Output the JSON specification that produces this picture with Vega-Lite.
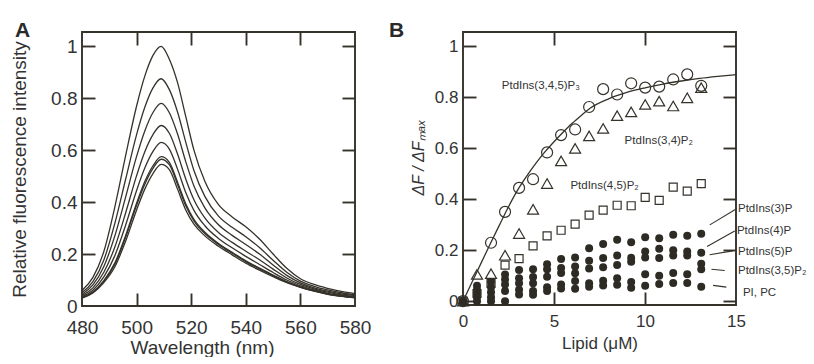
{
"$schema": "https://vega.github.io/schema/vega-lite/v6.json",
"background": "white",
"padding": {"left": 10, "top": 20, "right": 0, "bottom": 0},
"spacing": 108,
"bounds": "flush",
"config": {
  "view": {"stroke": null},
  "axis": {"grid": false, "labelColor": "#333333", "titleColor": "#333333", "labelFont": "Liberation Sans", "titleFont": "Liberation Sans",
           "titleFontWeight": "normal", "labelFlush": false, "labelOverlap": false},
  "title": {"font": "Liberation Sans", "color": "#2a2a2a"}
},
"datasets": {
  "spectra": [
{"c":1,"wl":480,"v":0.06},{"c":1,"wl":484,"v":0.11},{"c":1,"wl":488,"v":0.21},{"c":1,"wl":492,"v":0.38},{"c":1,"wl":496,"v":0.58},{"c":1,"wl":500,"v":0.77},{"c":1,"wl":503,"v":0.885},{"c":1,"wl":506,"v":0.965},{"c":1,"wl":509,"v":1.0},{"c":1,"wl":512,"v":0.95},{"c":1,"wl":515,"v":0.86},{"c":1,"wl":518,"v":0.73},{"c":1,"wl":521,"v":0.6},{"c":1,"wl":525,"v":0.48},{"c":1,"wl":530,"v":0.39},{"c":1,"wl":535,"v":0.343},{"c":1,"wl":540,"v":0.305},{"c":1,"wl":545,"v":0.258},{"c":1,"wl":550,"v":0.2},{"c":1,"wl":555,"v":0.145},{"c":1,"wl":560,"v":0.105},{"c":1,"wl":565,"v":0.083},{"c":1,"wl":570,"v":0.068},{"c":1,"wl":575,"v":0.056},{"c":1,"wl":580,"v":0.048},
{"c":2,"wl":480,"v":0.052},{"c":2,"wl":484,"v":0.094},{"c":2,"wl":488,"v":0.177},{"c":2,"wl":492,"v":0.317},{"c":2,"wl":496,"v":0.489},{"c":2,"wl":500,"v":0.66},{"c":2,"wl":503,"v":0.765},{"c":2,"wl":506,"v":0.84},{"c":2,"wl":509,"v":0.875},{"c":2,"wl":512,"v":0.833},{"c":2,"wl":515,"v":0.747},{"c":2,"wl":518,"v":0.631},{"c":2,"wl":521,"v":0.522},{"c":2,"wl":525,"v":0.422},{"c":2,"wl":530,"v":0.346},{"c":2,"wl":535,"v":0.303},{"c":2,"wl":540,"v":0.267},{"c":2,"wl":545,"v":0.225},{"c":2,"wl":550,"v":0.176},{"c":2,"wl":555,"v":0.13},{"c":2,"wl":560,"v":0.096},{"c":2,"wl":565,"v":0.076},{"c":2,"wl":570,"v":0.062},{"c":2,"wl":575,"v":0.051},{"c":2,"wl":580,"v":0.043},
{"c":3,"wl":480,"v":0.045},{"c":3,"wl":484,"v":0.081},{"c":3,"wl":488,"v":0.152},{"c":3,"wl":492,"v":0.269},{"c":3,"wl":496,"v":0.42},{"c":3,"wl":500,"v":0.576},{"c":3,"wl":503,"v":0.674},{"c":3,"wl":506,"v":0.745},{"c":3,"wl":509,"v":0.78},{"c":3,"wl":512,"v":0.744},{"c":3,"wl":515,"v":0.662},{"c":3,"wl":518,"v":0.556},{"c":3,"wl":521,"v":0.462},{"c":3,"wl":525,"v":0.378},{"c":3,"wl":530,"v":0.313},{"c":3,"wl":535,"v":0.272},{"c":3,"wl":540,"v":0.237},{"c":3,"wl":545,"v":0.2},{"c":3,"wl":550,"v":0.158},{"c":3,"wl":555,"v":0.118},{"c":3,"wl":560,"v":0.089},{"c":3,"wl":565,"v":0.07},{"c":3,"wl":570,"v":0.057},{"c":3,"wl":575,"v":0.047},{"c":3,"wl":580,"v":0.04},
{"c":4,"wl":480,"v":0.04},{"c":4,"wl":484,"v":0.07},{"c":4,"wl":488,"v":0.13},{"c":4,"wl":492,"v":0.226},{"c":4,"wl":496,"v":0.359},{"c":4,"wl":500,"v":0.502},{"c":4,"wl":503,"v":0.594},{"c":4,"wl":506,"v":0.66},{"c":4,"wl":509,"v":0.695},{"c":4,"wl":512,"v":0.665},{"c":4,"wl":515,"v":0.585},{"c":4,"wl":518,"v":0.489},{"c":4,"wl":521,"v":0.409},{"c":4,"wl":525,"v":0.339},{"c":4,"wl":530,"v":0.283},{"c":4,"wl":535,"v":0.245},{"c":4,"wl":540,"v":0.211},{"c":4,"wl":545,"v":0.178},{"c":4,"wl":550,"v":0.142},{"c":4,"wl":555,"v":0.108},{"c":4,"wl":560,"v":0.083},{"c":4,"wl":565,"v":0.066},{"c":4,"wl":570,"v":0.053},{"c":4,"wl":575,"v":0.043},{"c":4,"wl":580,"v":0.037},
{"c":5,"wl":480,"v":0.036},{"c":5,"wl":484,"v":0.061},{"c":5,"wl":488,"v":0.112},{"c":5,"wl":492,"v":0.193},{"c":5,"wl":496,"v":0.312},{"c":5,"wl":500,"v":0.445},{"c":5,"wl":503,"v":0.531},{"c":5,"wl":506,"v":0.595},{"c":5,"wl":509,"v":0.63},{"c":5,"wl":512,"v":0.604},{"c":5,"wl":515,"v":0.527},{"c":5,"wl":518,"v":0.437},{"c":5,"wl":521,"v":0.368},{"c":5,"wl":525,"v":0.309},{"c":5,"wl":530,"v":0.26},{"c":5,"wl":535,"v":0.224},{"c":5,"wl":540,"v":0.191},{"c":5,"wl":545,"v":0.16},{"c":5,"wl":550,"v":0.129},{"c":5,"wl":555,"v":0.1},{"c":5,"wl":560,"v":0.078},{"c":5,"wl":565,"v":0.062},{"c":5,"wl":570,"v":0.049},{"c":5,"wl":575,"v":0.041},{"c":5,"wl":580,"v":0.034},
{"c":6,"wl":480,"v":0.032},{"c":6,"wl":484,"v":0.054},{"c":6,"wl":488,"v":0.098},{"c":6,"wl":492,"v":0.165},{"c":6,"wl":496,"v":0.272},{"c":6,"wl":500,"v":0.396},{"c":6,"wl":503,"v":0.479},{"c":6,"wl":506,"v":0.54},{"c":6,"wl":509,"v":0.575},{"c":6,"wl":512,"v":0.553},{"c":6,"wl":515,"v":0.477},{"c":6,"wl":518,"v":0.394},{"c":6,"wl":521,"v":0.334},{"c":6,"wl":525,"v":0.284},{"c":6,"wl":530,"v":0.241},{"c":6,"wl":535,"v":0.207},{"c":6,"wl":540,"v":0.174},{"c":6,"wl":545,"v":0.146},{"c":6,"wl":550,"v":0.119},{"c":6,"wl":555,"v":0.094},{"c":6,"wl":560,"v":0.074},{"c":6,"wl":565,"v":0.059},{"c":6,"wl":570,"v":0.047},{"c":6,"wl":575,"v":0.038},{"c":6,"wl":580,"v":0.032},
{"c":7,"wl":480,"v":0.031},{"c":7,"wl":484,"v":0.053},{"c":7,"wl":488,"v":0.095},{"c":7,"wl":492,"v":0.16},{"c":7,"wl":496,"v":0.265},{"c":7,"wl":500,"v":0.388},{"c":7,"wl":503,"v":0.469},{"c":7,"wl":506,"v":0.53},{"c":7,"wl":509,"v":0.565},{"c":7,"wl":512,"v":0.544},{"c":7,"wl":515,"v":0.468},{"c":7,"wl":518,"v":0.386},{"c":7,"wl":521,"v":0.328},{"c":7,"wl":525,"v":0.279},{"c":7,"wl":530,"v":0.237},{"c":7,"wl":535,"v":0.203},{"c":7,"wl":540,"v":0.171},{"c":7,"wl":545,"v":0.143},{"c":7,"wl":550,"v":0.117},{"c":7,"wl":555,"v":0.092},{"c":7,"wl":560,"v":0.073},{"c":7,"wl":565,"v":0.058},{"c":7,"wl":570,"v":0.046},{"c":7,"wl":575,"v":0.038},{"c":7,"wl":580,"v":0.032},
{"c":8,"wl":480,"v":0.03},{"c":8,"wl":484,"v":0.05},{"c":8,"wl":488,"v":0.09},{"c":8,"wl":492,"v":0.15},{"c":8,"wl":496,"v":0.25},{"c":8,"wl":500,"v":0.37},{"c":8,"wl":503,"v":0.45},{"c":8,"wl":506,"v":0.51},{"c":8,"wl":509,"v":0.545},{"c":8,"wl":512,"v":0.525},{"c":8,"wl":515,"v":0.45},{"c":8,"wl":518,"v":0.37},{"c":8,"wl":521,"v":0.315},{"c":8,"wl":525,"v":0.27},{"c":8,"wl":530,"v":0.23},{"c":8,"wl":535,"v":0.197},{"c":8,"wl":540,"v":0.165},{"c":8,"wl":545,"v":0.138},{"c":8,"wl":550,"v":0.113},{"c":8,"wl":555,"v":0.09},{"c":8,"wl":560,"v":0.072},{"c":8,"wl":565,"v":0.057},{"c":8,"wl":570,"v":0.045},{"c":8,"wl":575,"v":0.037},{"c":8,"wl":580,"v":0.031}
  ],
  "fit": [
{"x":0,"y":0},{"x":0.5,"y":0.075},{"x":1,"y":0.15},{"x":1.5,"y":0.225},{"x":2,"y":0.298},{"x":2.5,"y":0.37},{"x":3,"y":0.435},{"x":3.5,"y":0.49},{"x":4,"y":0.54},{"x":4.5,"y":0.585},{"x":5,"y":0.625},{"x":5.5,"y":0.662},{"x":6,"y":0.697},{"x":6.5,"y":0.728},{"x":7,"y":0.757},{"x":8,"y":0.793},{"x":9,"y":0.818},{"x":10,"y":0.836},{"x":11,"y":0.851},{"x":12,"y":0.863},{"x":13,"y":0.873},{"x":14,"y":0.881},{"x":15,"y":0.888}
  ],
  "circ": [
{"x":0,"y":0},{"x":1.54,"y":0.229},{"x":2.31,"y":0.35},{"x":3.08,"y":0.444},{"x":3.85,"y":0.478},{"x":4.62,"y":0.583},{"x":5.39,"y":0.651},{"x":6.16,"y":0.673},{"x":6.93,"y":0.761},{"x":7.7,"y":0.831},{"x":8.47,"y":0.81},{"x":9.24,"y":0.854},{"x":10.01,"y":0.837},{"x":10.78,"y":0.841},{"x":11.55,"y":0.869},{"x":12.32,"y":0.889},{"x":13.09,"y":0.844}
  ],
  "tri": [
{"x":0,"y":0},{"x":0.77,"y":0.105},{"x":1.54,"y":0.108},{"x":2.31,"y":0.18},{"x":3.08,"y":0.265},{"x":3.85,"y":0.36},{"x":4.62,"y":0.461},{"x":5.39,"y":0.55},{"x":6.16,"y":0.599},{"x":6.93,"y":0.648},{"x":7.7,"y":0.677},{"x":8.47,"y":0.727},{"x":9.24,"y":0.742},{"x":10.01,"y":0.771},{"x":10.78,"y":0.784},{"x":11.55,"y":0.765},{"x":12.32,"y":0.797},{"x":13.09,"y":0.837}
  ],
  "sq": [
{"x":0,"y":0},{"x":0.77,"y":0.03},{"x":1.54,"y":0.07},{"x":2.31,"y":0.141},{"x":3.08,"y":0.167},{"x":3.85,"y":0.217},{"x":4.62,"y":0.256},{"x":5.39,"y":0.278},{"x":6.16,"y":0.302},{"x":6.93,"y":0.337},{"x":7.7,"y":0.357},{"x":8.47,"y":0.376},{"x":9.24,"y":0.374},{"x":10.01,"y":0.407},{"x":10.78,"y":0.395},{"x":11.55,"y":0.447},{"x":12.32,"y":0.431},{"x":13.09,"y":0.461}
  ],
  "dots": [
{"lipid":"PtdIns(3)P","x":0,"y":0},{"lipid":"PtdIns(4)P","x":0,"y":0},{"lipid":"PtdIns(5)P","x":0,"y":0},{"lipid":"PtdIns(3,5)P2","x":0,"y":0},{"lipid":"PI, PC","x":0,"y":0},
{"lipid":"PtdIns(3)P","x":0.77,"y":0.06},{"lipid":"PtdIns(4)P","x":0.77,"y":0.045},{"lipid":"PtdIns(5)P","x":0.77,"y":0.03},{"lipid":"PtdIns(3,5)P2","x":0.77,"y":0.015},{"lipid":"PI, PC","x":0.77,"y":0.0},
{"lipid":"PtdIns(3)P","x":1.54,"y":0.075},{"lipid":"PtdIns(4)P","x":1.54,"y":0.055},{"lipid":"PtdIns(5)P","x":1.54,"y":0.035},{"lipid":"PtdIns(3,5)P2","x":1.54,"y":0.015},{"lipid":"PI, PC","x":1.54,"y":0.0},
{"lipid":"PtdIns(3)P","x":2.31,"y":0.105},{"lipid":"PtdIns(4)P","x":2.31,"y":0.085},{"lipid":"PtdIns(5)P","x":2.31,"y":0.065},{"lipid":"PtdIns(3,5)P2","x":2.31,"y":0.04},{"lipid":"PI, PC","x":2.31,"y":0.0},
{"lipid":"PtdIns(3)P","x":3.08,"y":0.122},{"lipid":"PtdIns(4)P","x":3.08,"y":0.09},{"lipid":"PtdIns(5)P","x":3.08,"y":0.07},{"lipid":"PtdIns(3,5)P2","x":3.08,"y":0.045},{"lipid":"PI, PC","x":3.08,"y":0.026},
{"lipid":"PtdIns(3)P","x":3.85,"y":0.125},{"lipid":"PtdIns(4)P","x":3.85,"y":0.095},{"lipid":"PtdIns(5)P","x":3.85,"y":0.07},{"lipid":"PtdIns(3,5)P2","x":3.85,"y":0.04},{"lipid":"PI, PC","x":3.85,"y":0.025},
{"lipid":"PtdIns(3)P","x":4.62,"y":0.145},{"lipid":"PtdIns(4)P","x":4.62,"y":0.125},{"lipid":"PtdIns(5)P","x":4.62,"y":0.096},{"lipid":"PtdIns(3,5)P2","x":4.62,"y":0.055},{"lipid":"PI, PC","x":4.62,"y":0.04},
{"lipid":"PtdIns(3)P","x":5.39,"y":0.165},{"lipid":"PtdIns(4)P","x":5.39,"y":0.13},{"lipid":"PtdIns(5)P","x":5.39,"y":0.11},{"lipid":"PtdIns(3,5)P2","x":5.39,"y":0.065},{"lipid":"PI, PC","x":5.39,"y":0.05},
{"lipid":"PtdIns(3)P","x":6.16,"y":0.171},{"lipid":"PtdIns(4)P","x":6.16,"y":0.136},{"lipid":"PtdIns(5)P","x":6.16,"y":0.109},{"lipid":"PtdIns(3,5)P2","x":6.16,"y":0.079},{"lipid":"PI, PC","x":6.16,"y":0.049},
{"lipid":"PtdIns(3)P","x":6.93,"y":0.207},{"lipid":"PtdIns(4)P","x":6.93,"y":0.158},{"lipid":"PtdIns(5)P","x":6.93,"y":0.128},{"lipid":"PtdIns(3,5)P2","x":6.93,"y":0.07},{"lipid":"PI, PC","x":6.93,"y":0.057},
{"lipid":"PtdIns(3)P","x":7.7,"y":0.224},{"lipid":"PtdIns(4)P","x":7.7,"y":0.169},{"lipid":"PtdIns(5)P","x":7.7,"y":0.133},{"lipid":"PtdIns(3,5)P2","x":7.7,"y":0.08},{"lipid":"PI, PC","x":7.7,"y":0.061},
{"lipid":"PtdIns(3)P","x":8.47,"y":0.241},{"lipid":"PtdIns(4)P","x":8.47,"y":0.179},{"lipid":"PtdIns(5)P","x":8.47,"y":0.142},{"lipid":"PtdIns(3,5)P2","x":8.47,"y":0.09},{"lipid":"PI, PC","x":8.47,"y":0.064},
{"lipid":"PtdIns(3)P","x":9.24,"y":0.231},{"lipid":"PtdIns(4)P","x":9.24,"y":0.17},{"lipid":"PtdIns(5)P","x":9.24,"y":0.155},{"lipid":"PtdIns(3,5)P2","x":9.24,"y":0.075},{"lipid":"PI, PC","x":9.24,"y":0.053},
{"lipid":"PtdIns(3)P","x":10.01,"y":0.251},{"lipid":"PtdIns(4)P","x":10.01,"y":0.195},{"lipid":"PtdIns(5)P","x":10.01,"y":0.171},{"lipid":"PtdIns(3,5)P2","x":10.01,"y":0.106},{"lipid":"PI, PC","x":10.01,"y":0.06},
{"lipid":"PtdIns(3)P","x":10.78,"y":0.247},{"lipid":"PtdIns(4)P","x":10.78,"y":0.205},{"lipid":"PtdIns(5)P","x":10.78,"y":0.169},{"lipid":"PtdIns(3,5)P2","x":10.78,"y":0.1},{"lipid":"PI, PC","x":10.78,"y":0.067},
{"lipid":"PtdIns(3)P","x":11.55,"y":0.26},{"lipid":"PtdIns(4)P","x":11.55,"y":0.2},{"lipid":"PtdIns(5)P","x":11.55,"y":0.179},{"lipid":"PtdIns(3,5)P2","x":11.55,"y":0.11},{"lipid":"PI, PC","x":11.55,"y":0.071},
{"lipid":"PtdIns(3)P","x":12.32,"y":0.256},{"lipid":"PtdIns(4)P","x":12.32,"y":0.195},{"lipid":"PtdIns(5)P","x":12.32,"y":0.179},{"lipid":"PtdIns(3,5)P2","x":12.32,"y":0.106},{"lipid":"PI, PC","x":12.32,"y":0.071},
{"lipid":"PtdIns(3)P","x":13.09,"y":0.264},{"lipid":"PtdIns(4)P","x":13.09,"y":0.19},{"lipid":"PtdIns(5)P","x":13.09,"y":0.147},{"lipid":"PtdIns(3,5)P2","x":13.09,"y":0.125},{"lipid":"PI, PC","x":13.09,"y":0.057}
  ],
  "labels": [
{"x":2.13,"y":0.842,"t":"PtdIns(3,4,5)P₃"},{"x":8.88,"y":0.626,"t":"PtdIns(3,4)P₂"},{"x":5.9,"y":0.45,"t":"PtdIns(4,5)P₂"},
{"x":15.11,"y":0.362,"t":"PtdIns(3)P"},{"x":15.05,"y":0.276,"t":"PtdIns(4)P"},{"x":15.11,"y":0.191,"t":"PtdIns(5)P"},{"x":15.11,"y":0.119,"t":"PtdIns(3,5)P₂"},{"x":15.38,"y":0.033,"t":"PI, PC"}
  ],
  "leaders": [
{"x":13.56,"y":0.299,"x2":15.03,"y2":0.362},{"x":13.41,"y":0.214,"x2":14.93,"y2":0.275},{"x":13.55,"y":0.182,"x2":14.82,"y2":0.197},{"x":13.65,"y":0.125,"x2":14.38,"y2":0.12},{"x":13.74,"y":0.062,"x2":14.47,"y2":0.055}
  ]
},
"hconcat": [
{
  "width": 273, "height": 274,
  "title": {"text": "A", "anchor": "start", "frame": "group", "dx": -67, "dy": 12, "offset": 2, "fontSize": 21, "fontWeight": "bold"},
  "layer": [
    {"data": {"values": [{"x0": 480, "x1": 580, "y0": 0, "y1": 1.055}]},
     "mark": {"type": "rect", "fill": null, "filled": false, "stroke": "#35322a", "strokeWidth": 1.9, "opacity": 1},
     "encoding": {
       "x": {"field": "x0", "type": "quantitative", "scale": {"domain": [480, 580], "nice": false, "zero": false},
             "axis": {"orient": "bottom", "values": [480, 500, 520, 540, 560, 580], "domain": false, "ticks": false, "tickSize": 0, "labelFontSize": 19, "labelPadding": 12, "title": "Wavelength (nm)", "titleFontSize": 19, "titlePadding": 1, "titleX": 120}},
       "x2": {"field": "x1"},
       "y": {"field": "y0", "type": "quantitative", "scale": {"domain": [0, 1.055], "nice": false, "zero": false},
             "axis": {"orient": "left", "values": [0, 0.2, 0.4, 0.6, 0.8, 1], "format": "~g", "domain": false, "ticks": false, "tickSize": 0, "labelFontSize": 19, "labelPadding": 5, "title": "Relative fluorescence intensity", "titleFontSize": 19, "titlePadding": 21}},
       "y2": {"field": "y1"}
     }},
    {"data": {"name": "spectra"},
     "mark": {"type": "line", "interpolate": "monotone", "strokeWidth": 1.3, "color": "#35322a"},
     "encoding": {
       "x": {"field": "wl", "type": "quantitative", "scale": {"domain": [480, 580], "nice": false, "zero": false},
             "axis": {"orient": "top", "offset": -274, "values": [500, 520, 540, 560], "labels": false, "domain": false, "ticks": true, "tickSize": 13, "tickWidth": 1.9, "tickColor": "#35322a", "title": null}},
       "y": {"field": "v", "type": "quantitative", "scale": {"domain": [0, 1.055], "nice": false, "zero": false},
             "axis": {"orient": "right", "offset": -273, "values": [0.2, 0.4, 0.6, 0.8, 1], "labels": false, "domain": false, "ticks": true, "tickSize": 13, "tickWidth": 1.9, "tickColor": "#35322a", "title": null}},
       "detail": {"field": "c", "type": "nominal"}
     }},
    {"data": {"values": [{"wl": 480, "v": 0}]},
     "mark": {"type": "point", "opacity": 0},
     "encoding": {
       "x": {"field": "wl", "type": "quantitative", "scale": {"domain": [480, 580], "nice": false, "zero": false},
             "axis": {"orient": "bottom", "offset": -274, "values": [500, 520, 540, 560], "labels": false, "domain": false, "ticks": true, "tickSize": 13, "tickWidth": 1.9, "tickColor": "#35322a", "title": null}},
       "y": {"field": "v", "type": "quantitative", "scale": {"domain": [0, 1.055], "nice": false, "zero": false},
             "axis": {"orient": "left", "offset": -273, "values": [0.2, 0.4, 0.6, 0.8, 1], "labels": false, "domain": false, "ticks": true, "tickSize": 13, "tickWidth": 1.9, "tickColor": "#35322a", "title": null}}
     }}
  ],
  "resolve": {"axis": {"x": "independent", "y": "independent"}}
},
{
  "width": 273, "height": 273,
  "title": {"text": "B", "anchor": "start", "frame": "group", "dx": -74, "dy": 12, "offset": 2, "fontSize": 21, "fontWeight": "bold"},
  "layer": [
    {"data": {"values": [{"x0": 0, "x1": 15, "y0": -0.015, "y1": 1.055}]},
     "mark": {"type": "rect", "fill": null, "filled": false, "stroke": "#35322a", "strokeWidth": 1.9, "opacity": 1},
     "encoding": {
       "x": {"field": "x0", "type": "quantitative", "scale": {"domain": [0, 15], "nice": false, "zero": false},
             "axis": {"orient": "bottom", "values": [0, 5, 10, 15], "domain": false, "ticks": false, "tickSize": 0, "labelFontSize": 17, "labelPadding": 8, "title": "Lipid (μM)", "titleFontSize": 17, "titlePadding": 6}},
       "x2": {"field": "x1"},
       "y": {"field": "y0", "type": "quantitative", "scale": {"domain": [-0.015, 1.055], "nice": false, "zero": false},
             "axis": {"orient": "left", "values": [0, 0.2, 0.4, 0.6, 0.8, 1], "format": "~g", "domain": false, "ticks": false, "tickSize": 0, "labelFontSize": 17, "labelPadding": 5, "title": "ΔF / ΔFₘₐₓ", "titleFontSize": 16, "titleFontStyle": "italic", "titlePadding": 8, "titleY": 125}},
       "y2": {"field": "y1"}
     }},
    {"data": {"name": "fit"},
     "mark": {"type": "line", "interpolate": "monotone", "strokeWidth": 1.3, "color": "#35322a"},
     "encoding": {
       "x": {"field": "x", "type": "quantitative", "scale": {"domain": [0, 15], "nice": false, "zero": false},
             "axis": {"orient": "top", "offset": -273, "values": [5, 10], "labels": false, "domain": false, "ticks": true, "tickSize": 13, "tickWidth": 1.9, "tickColor": "#35322a", "title": null}},
       "y": {"field": "y", "type": "quantitative", "scale": {"domain": [-0.015, 1.055], "nice": false, "zero": false},
             "axis": {"orient": "right", "offset": -273, "values": [0, 0.2, 0.4, 0.6, 0.8, 1], "labels": false, "domain": false, "ticks": true, "tickSize": 13, "tickWidth": 1.9, "tickColor": "#35322a", "title": null}}
     }},
    {"data": {"name": "circ"},
     "mark": {"type": "point", "shape": "circle", "filled": false, "size": 121, "strokeWidth": 1.2, "color": "#35322a", "opacity": 1},
     "encoding": {
       "x": {"field": "x", "type": "quantitative", "scale": {"domain": [0, 15], "nice": false, "zero": false},
             "axis": {"orient": "bottom", "offset": -273, "values": [5, 10], "labels": false, "domain": false, "ticks": true, "tickSize": 13, "tickWidth": 1.9, "tickColor": "#35322a", "title": null}},
       "y": {"field": "y", "type": "quantitative", "scale": {"domain": [-0.015, 1.055], "nice": false, "zero": false},
             "axis": {"orient": "left", "offset": -273, "values": [0, 0.2, 0.4, 0.6, 0.8, 1], "labels": false, "domain": false, "ticks": true, "tickSize": 13, "tickWidth": 1.9, "tickColor": "#35322a", "title": null}}
     }},
    {"data": {"name": "tri"},
     "mark": {"type": "point", "shape": "triangle-up", "filled": false, "size": 121, "strokeWidth": 1.2, "color": "#35322a", "opacity": 1},
     "encoding": {
       "x": {"field": "x", "type": "quantitative", "scale": {"domain": [0, 15], "nice": false, "zero": false}, "axis": null},
       "y": {"field": "y", "type": "quantitative", "scale": {"domain": [-0.015, 1.055], "nice": false, "zero": false}, "axis": null}
     }},
    {"data": {"name": "sq"},
     "mark": {"type": "point", "shape": "square", "filled": false, "size": 64, "strokeWidth": 1.2, "color": "#35322a", "opacity": 1},
     "encoding": {
       "x": {"field": "x", "type": "quantitative", "scale": {"domain": [0, 15], "nice": false, "zero": false}, "axis": null},
       "y": {"field": "y", "type": "quantitative", "scale": {"domain": [-0.015, 1.055], "nice": false, "zero": false}, "axis": null}
     }},
    {"data": {"name": "dots"},
     "mark": {"type": "point", "shape": "circle", "filled": true, "size": 64, "color": "#2e2b24", "opacity": 1},
     "encoding": {
       "x": {"field": "x", "type": "quantitative", "scale": {"domain": [0, 15], "nice": false, "zero": false}, "axis": null},
       "y": {"field": "y", "type": "quantitative", "scale": {"domain": [-0.015, 1.055], "nice": false, "zero": false}, "axis": null},
       "detail": {"field": "lipid", "type": "nominal"}
     }},
    {"data": {"name": "leaders"},
     "mark": {"type": "rule", "strokeWidth": 1.1, "color": "#35322a"},
     "encoding": {
       "x": {"field": "x", "type": "quantitative", "scale": {"domain": [0, 15], "nice": false, "zero": false}, "axis": null},
       "y": {"field": "y", "type": "quantitative", "scale": {"domain": [-0.015, 1.055], "nice": false, "zero": false}, "axis": null},
       "x2": {"field": "x2"},
       "y2": {"field": "y2"}
     }},
    {"data": {"name": "labels"},
     "mark": {"type": "text", "align": "left", "baseline": "middle", "font": "Liberation Sans", "fontSize": 11.5, "color": "#333333"},
     "encoding": {
       "x": {"field": "x", "type": "quantitative", "scale": {"domain": [0, 15], "nice": false, "zero": false}, "axis": null},
       "y": {"field": "y", "type": "quantitative", "scale": {"domain": [-0.015, 1.055], "nice": false, "zero": false}, "axis": null},
       "text": {"field": "t", "type": "nominal"}
     }}
  ],
  "resolve": {"axis": {"x": "independent", "y": "independent"}}
}
]
}
